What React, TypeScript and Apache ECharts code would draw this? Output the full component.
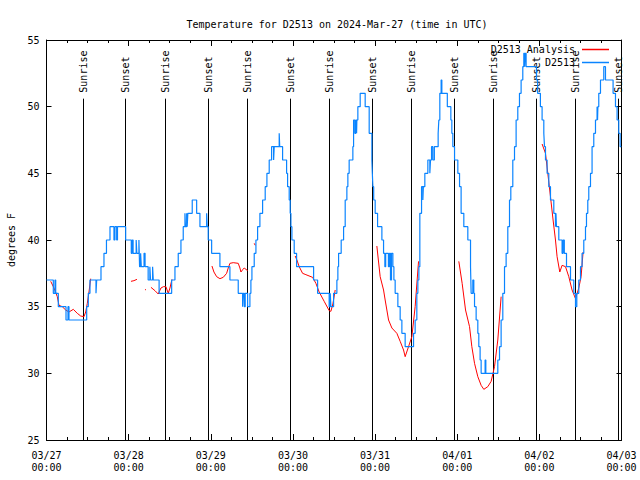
import React, { useEffect, useRef } from "react";
import * as echarts from "echarts";

const START = Date.UTC(2024, 2, 27);
const HOUR = 3600000;
const DAY = 24 * HOUR;

const titleText = "Temperature for D2513 on 2024-Mar-27 (time in UTC)";
const observedName = "D2513";
const analysisName = "D2513 Analysis";

// Observed (hours since 03/27 00:00 UTC, °F) — value holds until next change
const observedHours = [
  0, 1.99, 2.48, 2.69, 3.45, 5.7, 6.28, 6.57, 11.74, 12.21, 12.7, 14.46, 14.66, 15.92, 16.79, 17.52, 18.55, 19.71, 20.0, 20.5, 20.74,
  23.13, 24.77, 25.06, 25.3, 26.2, 26.4, 27.0, 27.2, 27.5, 27.7, 28.5, 28.8, 29.7, 30.2, 30.4, 31.0, 31.2, 32.9, 36.57, 37.53, 38.49,
  39.28, 39.95, 40.45, 40.6, 40.95, 41.1, 41.3, 42.58, 43.87, 44.83, 46.79, 46.96, 47.25, 48.25, 50.67, 53.59, 56.02,
  57.3, 57.5, 57.8, 58.06, 58.76, 59.43, 59.72, 60.02, 60.69, 61.19, 61.68, 62.35, 63.14, 63.9, 64.4, 65.07, 65.77, 66.36, 66.53,
  67.99, 68.14, 68.98, 70.15, 70.44, 70.91, 71.2, 71.41, 71.7, 72.37, 73.07, 78.04, 79.21, 82.59, 82.9, 83.1, 83.88, 84.84, 85.13,
  85.34, 86.1, 86.8, 87.27, 87.76, 88.05, 88.43, 89.51, 89.72, 90.1, 90.39, 90.6, 90.68, 90.97, 91.65, 93.11, 94.28, 95.07, 95.2,
  95.36, 95.6, 96.03, 96.73, 97.99, 98.48, 98.86, 99.1, 99.9, 100.2, 100.5, 100.8, 101.2, 101.5, 101.87, 102.66, 103.33, 103.83,
  104.79, 107.24, 107.71, 108.2, 108.5, 108.8, 109.08, 109.58, 109.96, 110.11, 110.54, 111.42, 112.0, 112.2, 112.5, 112.88, 113.32,
  114.43, 114.63, 114.92, 115.3, 115.51, 117.11, 118.14, 118.43, 118.72, 119.22, 120.18, 120.68, 121.14, 121.93, 123.1, 123.89,
  124.07, 124.56, 124.85, 125.06, 125.53, 126.02, 126.31, 126.69, 126.99, 128.15, 128.36, 131.86, 132.36, 132.83, 133.32, 133.82,
  134.29, 134.78, 135.28, 135.66, 136.24, 136.74, 137.21, 137.7, 138.19, 138.67, 139.16, 139.46, 139.7, 139.89, 140.13, 143.17,
  143.5, 144.3, 144.8, 145.3, 145.5, 145.79, 146.26, 146.76, 147.25, 148.22, 148.7, 148.85, 149.0, 149.68, 150.64, 150.93, 151.29,
  151.93, 153.1, 154.06, 154.56, 154.94, 155.52, 156.02, 156.48, 156.98, 157.48, 157.77, 158.15, 158.44, 158.94, 159.4, 159.9,
  160.4, 160.86, 161.0, 161.1, 161.36, 161.86, 162.82, 163.32, 165.54, 166.24, 166.71, 167.2, 167.6, 167.93,
];
const observedTemps = [
  37, 36, 37, 36, 35, 34, 35, 34, 35, 36, 37, 36, 37, 38, 39, 40, 41, 40, 41, 40, 41,
  40, 39, 40, 39, 40, 39, 40, 38, 39, 38, 39, 38, 37, 38, 37, 38, 37, 36, 37, 38, 39,
  40, 41, 42, 41, 42, 41, 42, 43, 42, 41, 42, 41, 40, 39, 38, 37, 36,
  35, 36, 35, 36, 35, 36, 37, 38, 39, 40, 41, 42, 43, 44, 45, 46, 47, 46, 47,
  48, 47, 46, 45, 44, 43, 42, 41, 40, 39, 38, 37, 36, 35, 36, 35, 36, 37, 38,
  39, 40, 41, 43, 44, 45, 46, 47, 49, 48, 49, 48, 49, 50, 51, 50, 48, 46, 45,
  44, 43, 42, 41, 40, 39, 38, 39, 38, 39, 37, 39, 38, 37, 36, 35, 34, 33,
  32, 33, 34, 36, 37, 38, 42, 44, 43, 44, 45, 46, 45, 46, 47, 46, 47,
  48, 49, 51, 52, 51, 50, 49, 48, 47, 46, 45, 44, 42, 41, 40, 38,
  36, 37, 36, 35, 34, 33, 32, 31, 30, 31, 30, 31, 32, 34, 36, 38,
  39, 41, 43, 44, 46, 47, 49, 50, 51, 52, 53, 54, 53, 54, 53, 52,
  51, 50, 49, 48, 47, 46, 45, 44, 43, 42, 41, 42, 41, 40, 39, 40, 39,
  38, 37, 36, 35, 36, 37, 38, 39, 40, 41, 42, 43, 44, 45, 47, 48,
  49, 50, 49, 50, 51, 52, 53, 52, 51, 50, 49, 48, 47, 47,
];

// Analysis (hours, °F); null marks a gap
const analysisHours = [
  1.23, 2.19, 3.15, 3.65, 4.61, 5.61, 6.57, 7.83, 9.0, 9.99, 10.95, 11.45, 11.92, 12.41, 12.91, 13.2,
  24.68, 25.55, 26.43, 27.0,
  28.77, 29.06, 29.5,
  30.52, 31.69, 32.65, 33.44, 34.17, 34.9, 35.57, 36.07, 36.65, 37.0,
  48.34, 48.92, 49.71, 50.67, 51.64, 52.63, 53.1, 53.59, 54.56, 56.02, 56.51, 56.81, 57.39, 57.77, 58.76, 59.2,
  60.69, 60.98, 61.3,
  72.66, 73.16, 73.83, 74.82, 75.79, 77.75, 78.71, 79.67, 81.13, 82.59, 83.09, 83.67, 84.35, 84.8,
  96.52, 97.49, 98.48, 98.95, 99.94, 100.91, 102.37, 103.33, 104.32, 104.79, 105.78, 106.75, 107.71, 108.7, 109.0,
  120.47, 121.44, 122.43, 123.6, 124.27, 125.06, 126.02, 126.99, 127.77, 128.94, 129.91, 130.9, 131.86, 132.83, 133.2,
  144.8, 145.79, 146.47, 147.25, 148.01, 148.71, 149.18, 149.97, 150.64, 151.64, 152.6, 153.56, 154.56, 155.52, 156.19, 156.78,
];
const analysisTemps = [
  36.9, 36.4, 35.75, 35.1, 35.0, 34.75, 34.6, 34.8, 34.5, 34.3, 34.25, 34.6, 35.25, 36.1, 37.1, null,
  36.9, 36.95, 37.05, null,
  36.3, 36.25, null,
  36.45, 36.2, 35.95, 36.4, 36.5, 36.5, 36.0, 36.4, 37.05, null,
  38.05, 37.6, 37.25, 37.1, 37.2, 37.5, 37.9, 38.25, 38.3, 38.25, 37.9, 37.6, 37.8, 37.9, 37.7, null,
  39.75, 39.6, null,
  38.8, 38.5, 38.0, 37.5, 37.4, 37.2, 36.75, 36.1, 35.4, 34.7, 34.65, 35.2, 36.25, null,
  39.55, 37.25, 36.25, 35.5, 34.0, 33.4, 33.0, 32.4, 31.75, 31.25, 32.0, 32.75, 35.0, 38.4, null,
  38.4, 36.75, 34.75, 33.5, 32.0, 30.75, 29.75, 29.1, 28.8, 29.0, 29.4, 30.5, 32.5, 35.75, null,
  47.2, 46.5, 45.0, 43.25, 41.5, 40.0, 38.75, 37.6, 38.1, 38.0, 37.25, 36.25, 35.6, 36.4, 37.25, 39.1,
];

const sunriseHours = [10.75, 34.7, 58.64, 82.59, 106.54, 130.49, 154.44];
const sunsetHours = [23.02, 47.05, 71.0, 95.12, 119.08, 143.08, 167.05];
const sunLabels = ["Sunrise", "Sunset"];
const sunLineTop = 50.6;

const yMin = 25;
const yMax = 55;
const yStep = 5;

const FONT = "DejaVu Sans Mono";
const pad = (n: number) => (n < 10 ? "0" + n : "" + n);

export default function App() {
  const ref = useRef<HTMLDivElement>(null);
  useEffect(() => {
    if (!ref.current) return;
    const chart = echarts.init(ref.current, undefined, { renderer: "svg" });
    const observed = observedHours.map((h, i) => [START + h * HOUR, observedTemps[i]]);
    const analysis = analysisHours.map((h, i) => [START + h * HOUR, analysisTemps[i]]);
    const sunData = [
      ...sunriseHours.map((h) => [START + h * HOUR, yMin, 0]),
      ...sunsetHours.map((h) => [START + h * HOUR, yMin, 1]),
    ];
    const xCommon = {
      type: "value" as const,
      min: START,
      max: START + 7 * DAY,
      interval: DAY,
      axisLine: { show: true, onZero: false, lineStyle: { color: "#000", width: 1 } },
      axisTick: { show: true, inside: true, length: 6, lineStyle: { color: "#000" } },
      minorTick: { show: true, splitNumber: 4, length: 3, lineStyle: { color: "#000" } },
      splitLine: { show: false },
    };
    const yCommon = {
      type: "value" as const,
      min: yMin,
      max: yMax,
      interval: yStep,
      axisLine: { show: true, onZero: false, lineStyle: { color: "#000", width: 1 } },
      axisTick: { show: true, inside: true, length: 5, lineStyle: { color: "#000" } },
      splitLine: { show: false },
    };
    chart.setOption({
      animation: false,
      backgroundColor: "#fff",
      title: {
        text: titleText,
        left: 332,
        textAlign: "center",
        top: 14,
        textStyle: { fontFamily: FONT, fontSize: 10, fontWeight: "normal", color: "#000" },
      },
      legend: {
        data: [
          { name: analysisName, icon: "rect" },
          { name: observedName, icon: "rect" },
        ],
        orient: "vertical",
        right: 31,
        top: 44,
        align: "right",
        itemWidth: 27,
        itemHeight: 1.5,
        itemGap: 2,
        padding: 0,
        textStyle: { fontFamily: FONT, fontSize: 10, lineHeight: 11, color: "#000", padding: [0, 2, 0, 0] },
      },
      grid: { left: 46.5, right: 18.5, top: 40, bottom: 40, containLabel: false, outerBoundsMode: "none" },
      xAxis: [
        {
          ...xCommon,
          position: "bottom",
          axisLabel: {
            show: true,
            margin: 9,
            fontFamily: FONT,
            fontSize: 10,
            lineHeight: 12,
            color: "#000",
            formatter: (v: number) => {
              const d = new Date(v);
              return pad(d.getUTCMonth() + 1) + "/" + pad(d.getUTCDate()) + "\n" + pad(d.getUTCHours()) + ":" + pad(d.getUTCMinutes());
            },
          },
        },
        { ...xCommon, position: "top", axisLabel: { show: false } },
      ],
      yAxis: [
        {
          ...yCommon,
          position: "left",
          name: "degrees F",
          nameLocation: "middle",
          nameGap: 30,
          nameTextStyle: { fontFamily: FONT, fontSize: 10, color: "#000" },
          axisLabel: { show: true, margin: 7, fontFamily: FONT, fontSize: 10, color: "#000" },
        },
        { ...yCommon, position: "right", axisLabel: { show: false } },
      ],
      series: [
        {
          type: "custom",
          name: "sun",
          xAxisIndex: 0,
          yAxisIndex: 0,
          clip: false,
          z: 1,
          encode: { x: 0, y: 1 },
          data: sunData,
          renderItem: (params: any, api: any) => {
            const t = api.value(0);
            const kind = api.value(2);
            const p0 = api.coord([t, yMin]);
            const p1 = api.coord([t, sunLineTop]);
            const x = Math.round(p0[0]) + 0.5;
            return {
              type: "group",
              children: [
                {
                  type: "line",
                  shape: { x1: x, y1: p0[1], x2: x, y2: p1[1] },
                  style: { stroke: "#000", lineWidth: 1 },
                },
                {
                  type: "text",
                  x: x,
                  y: p1[1] - 6,
                  rotation: Math.PI / 2,
                  style: {
                    text: sunLabels[kind],
                    fill: "#000",
                    font: `10px "${FONT}"`,
                    align: "left",
                    verticalAlign: "middle",
                  },
                },
              ],
            };
          },
        },
        {
          type: "line",
          name: analysisName,
          data: analysis,
          showSymbol: false,
          connectNulls: false,
          color: "#ff0000",
          lineStyle: { color: "#ff0000", width: 1 },
          z: 2,
        },
        {
          type: "line",
          name: observedName,
          data: observed,
          step: "end",
          showSymbol: false,
          color: "#0a84ff",
          lineStyle: { color: "#0a84ff", width: 1.2 },
          z: 3,
        },
      ],
    });
    return () => chart.dispose();
  }, []);
  return <div ref={ref} style={{ position: "fixed", left: 0, top: 0, width: 640, height: 480 }} />;
}
